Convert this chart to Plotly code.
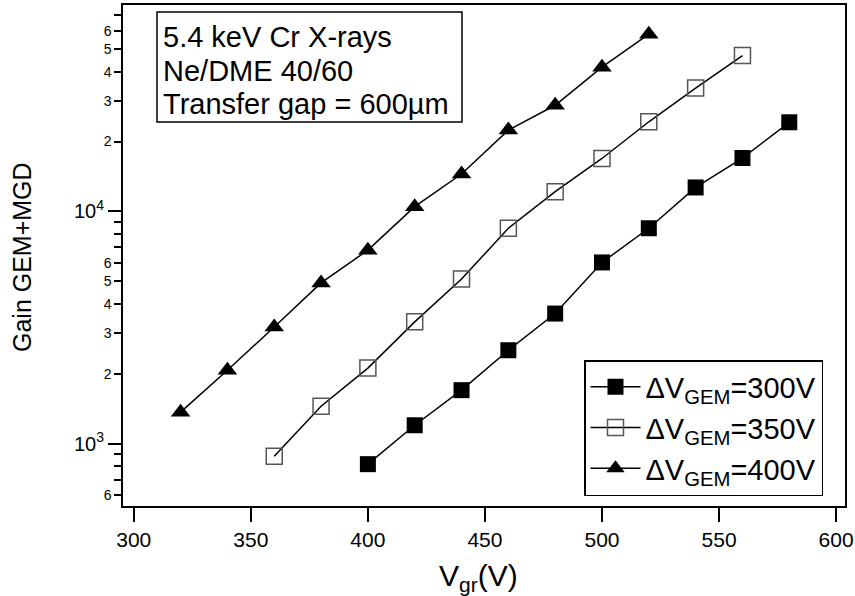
import plotly.graph_objects as go

# Data
v_300 = [400, 420, 440, 460, 480, 500, 520, 540, 560, 580]
g_300 = [815, 1199, 1698, 2523, 3630, 6026, 8460, 12680, 16980, 24200]

v_350 = [360, 380, 400, 420, 440, 460, 480, 500, 520, 540, 560]
g_350 = [882, 1448, 2113, 3343, 5110, 8460, 12160, 16900, 24320, 33970, 46900]

v_400 = [320, 340, 360, 380, 400, 420, 440, 460, 480, 500, 520]
g_400 = [1365, 2070, 3178, 4920, 6810, 10480, 14490, 22400, 28650, 41800, 58000]

names = ["ΔV<sub>GEM</sub>=300V", "ΔV<sub>GEM</sub>=350V", "ΔV<sub>GEM</sub>=400V"]

x_ticks = [300, 350, 400, 450, 500, 550, 600]
y_minor_vals = [600, 700, 800, 900, 2000, 3000, 4000, 5000, 6000, 7000, 8000, 9000,
                20000, 30000, 40000, 50000, 60000, 70000]
y_minor_text = ["6", "", "", "", "2", "3", "4", "5", "6", "", "", "",
                "2", "3", "4", "5", "6", ""]
y_major_vals = [1000, 10000]
y_major_text = ["10<sup>3</sup>", "10<sup>4</sup>"]

box_lines = ["5.4 keV Cr X-rays", "Ne/DME 40/60", "Transfer gap = 600µm"]
x_title = "V<sub>gr</sub>(V)"
y_title = "Gain GEM+MGD"

FONT = "Liberation Sans, Arial, sans-serif"
XR = [295.4, 603.8]
YR = [2.731, 4.889]

# plot area in pixels (for converting paper placement)
L, T, W, H = 123, 5, 722, 501


def px(xp):
    return (xp - L) / W


def py(yp):
    return (T + H - yp) / H


fig = go.Figure()
fig.add_trace(go.Scatter(x=v_300, y=g_300, mode="lines+markers", name=names[0],
                         line=dict(color="black", width=1.5),
                         marker=dict(symbol="square", size=16, color="black")))
fig.add_trace(go.Scatter(x=v_350, y=g_350, mode="lines+markers", name=names[1],
                         line=dict(color="black", width=1.5),
                         marker=dict(symbol="square-open", size=16, color="#555555",
                                     line=dict(width=1.5))))
fig.add_trace(go.Scatter(x=v_400, y=g_400, mode="lines+markers", name=names[2],
                         line=dict(color="black", width=1.5),
                         marker=dict(symbol="triangle-up", size=17, color="black")))
# invisible trace to hold the decade-tick axis
fig.add_trace(go.Scatter(x=[XR[0]], y=[1000], yaxis="y2", mode="markers",
                         marker=dict(opacity=0), showlegend=False, hoverinfo="skip"))

fig.update_layout(
    width=855, height=596,
    margin=dict(l=L, r=855 - L - W, t=T, b=596 - T - H, autoexpand=False),
    paper_bgcolor="white", plot_bgcolor="white",
    font=dict(family=FONT, color="black"),
    xaxis=dict(range=XR, tickvals=x_ticks, ticks="outside", ticklen=14, tickwidth=1.5,
               tickcolor="black", showline=True, linecolor="black", linewidth=1.5,
               mirror=True, showgrid=False, zeroline=False, automargin=False,
               tickfont=dict(size=21, family=FONT)),
    yaxis=dict(type="log", range=YR, tickvals=y_minor_vals, ticktext=y_minor_text,
               ticks="outside", ticklen=7, tickwidth=1.5, tickcolor="black",
               showline=True, linecolor="black", linewidth=1.5, mirror=True,
               showgrid=False, zeroline=False, automargin=False,
               tickfont=dict(size=14, family=FONT)),
    yaxis2=dict(type="log", range=YR, overlaying="y", side="left", tickvals=y_major_vals,
                ticktext=y_major_text, ticks="outside", ticklen=14, tickwidth=1.5,
                tickcolor="black", showline=False, showgrid=False, zeroline=False,
                automargin=False, tickfont=dict(size=20, family=FONT)),
    legend=dict(x=px(823), y=py(496), xanchor="right", yanchor="bottom",
                bordercolor="black", borderwidth=1.5, bgcolor="white",
                font=dict(size=29, family=FONT), tracegroupgap=0, itemwidth=50),
    showlegend=True,
)

# text box
fig.add_shape(type="rect", xref="paper", yref="paper", x0=px(157), x1=px(462),
              y0=py(122), y1=py(12), line=dict(color="black", width=1.5),
              fillcolor="white", layer="above")
for i, line_text in enumerate(box_lines):
    fig.add_annotation(xref="paper", yref="paper", x=px(161), y=py(37 + 33.5 * i),
                       xanchor="left", yanchor="middle", text=line_text, showarrow=False,
                       align="left", font=dict(size=29, family=FONT, color="black"))

fig.add_annotation(xref="paper", yref="paper", x=px(478), y=py(577), xanchor="center",
                   yanchor="middle", text=x_title, showarrow=False,
                   font=dict(size=30, family=FONT, color="black"))
fig.add_annotation(xref="paper", yref="paper", x=px(22), y=py(257), xanchor="center",
                   yanchor="middle", text=y_title, showarrow=False, textangle=-90,
                   font=dict(size=25, family=FONT, color="black"))

fig.write_html("out.html", config={"displayModeBar": False},
               post_script="document.body.style.margin='0';")
